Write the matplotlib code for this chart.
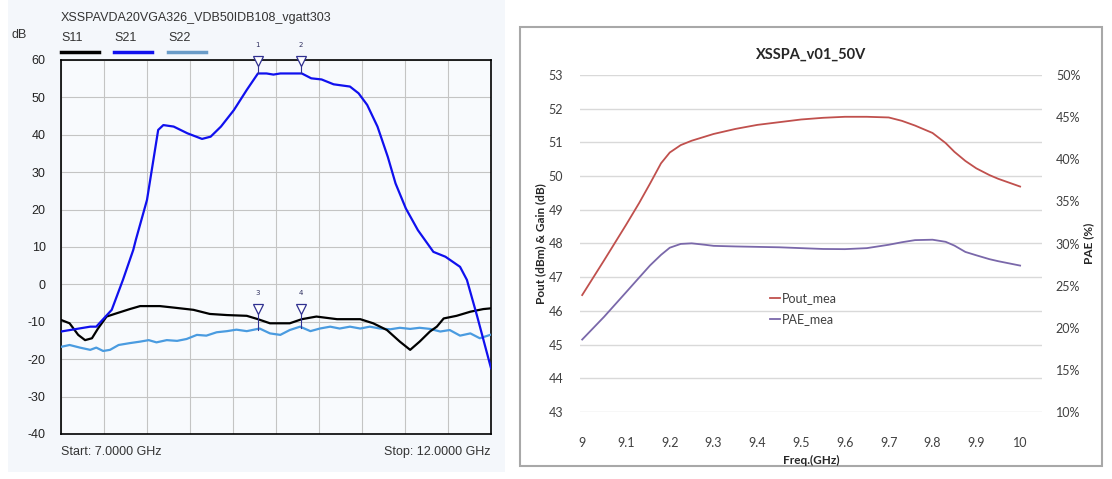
import numpy as np
import matplotlib
matplotlib.use("Agg")
import matplotlib.pyplot as plt
from matplotlib.patches import Rectangle
from matplotlib.lines import Line2D

# ---- left panel: VNA S-parameter sweep, 7-12 GHz ----
S21_F = [7.0, 7.34, 7.41, 7.59, 7.72, 7.84, 7.87, 8.0, 8.13, 8.19, 8.31, 8.47, 8.64, 8.74,
         8.86, 9.01, 9.16, 9.29, 9.39, 9.47, 9.55, 9.8, 9.91, 10.03, 10.17, 10.36, 10.46,
         10.56, 10.68, 10.8, 10.89, 11.01, 11.15, 11.33, 11.47, 11.64, 11.72, 11.84, 12.0]
S21_DB = [-12.6, -11.3, -11.3, -6.8, 1.2, 9.2, 11.9, 22.6, 41.3, 42.6, 42.2, 40.4, 38.9, 39.5,
          42.2, 46.6, 52.0, 56.4, 56.4, 56.1, 56.4, 56.4, 55.1, 54.8, 53.5, 52.9, 51.1,
          48.0, 42.2, 34.1, 27.0, 20.3, 14.5, 8.7, 7.4, 4.7, 1.2, -8.6, -22.4]

S11_F = [7.0, 7.1, 7.2, 7.28, 7.36, 7.43, 7.53, 7.65, 7.8, 7.92, 8.15, 8.31, 8.54, 8.73,
         8.93, 9.16, 9.29, 9.43, 9.66, 9.8, 9.97, 10.21, 10.48, 10.63, 10.79, 10.94, 11.06,
         11.17, 11.29, 11.37, 11.45, 11.6, 11.76, 11.91, 12.0]
S11_DB = [-9.5, -10.4, -13.5, -14.9, -14.4, -11.8, -8.6, -7.7, -6.6, -5.8, -5.8, -6.2, -6.8, -7.9,
          -8.2, -8.4, -9.3, -10.4, -10.4, -9.3, -8.6, -9.3, -9.3, -10.4, -12.2, -15.3, -17.5,
          -15.3, -12.6, -11.3, -9.1, -8.4, -7.3, -6.6, -6.4]

S22_F = [7.0, 7.1, 7.22, 7.34, 7.41, 7.49, 7.57, 7.67, 7.8, 7.92, 8.02, 8.11, 8.23, 8.35,
         8.46, 8.58, 8.69, 8.81, 8.93, 9.04, 9.16, 9.31, 9.43, 9.55, 9.66, 9.78, 9.9, 10.01,
         10.13, 10.24, 10.36, 10.48, 10.59, 10.71, 10.83, 10.94, 11.06, 11.17, 11.29, 11.41,
         11.52, 11.64, 11.76, 11.87, 11.99]
S22_DB = [-16.7, -16.2, -16.9, -17.5, -16.9, -17.8, -17.5, -16.2, -15.7, -15.3, -14.9, -15.5,
          -14.9, -15.1, -14.6, -13.5, -13.7, -12.8, -12.5, -12.1, -12.5, -11.8, -13.1, -13.5,
          -12.2, -11.3, -12.5, -11.8, -11.3, -11.8, -11.3, -11.8, -11.3, -11.8, -12.0, -11.6,
          -11.9, -11.6, -11.9, -12.6, -12.2, -13.7, -13.1, -14.4, -13.5]

MARKER_F = [9.29, 9.79, 9.29, 9.79]
MARKER_DB = [59.6, 59.6, -6.6, -6.6]
MARKER_TO = [56.4, 56.4, -12.2, -11.6]
MARKER_LABELS = ["1", "2", "3", "4"]

# ---- right panel: Pout / PAE vs frequency ----
FREQ = [9.0, 9.05, 9.1, 9.13, 9.155, 9.18, 9.2, 9.225, 9.25, 9.28, 9.3, 9.35, 9.4, 9.45,
        9.5, 9.55, 9.6, 9.65, 9.7, 9.73, 9.76, 9.8, 9.83, 9.85, 9.875, 9.9, 9.93, 9.95, 10.0]
POUT = [46.47, 47.5, 48.55, 49.2, 49.78, 50.38, 50.7, 50.92, 51.05, 51.17, 51.25, 51.4,
        51.52, 51.6, 51.68, 51.73, 51.76, 51.76, 51.74, 51.64, 51.5, 51.28, 50.98, 50.72,
        50.45, 50.23, 50.03, 49.92, 49.69]
PAE = [18.6, 21.3, 24.2, 25.95, 27.4, 28.65, 29.5, 29.95, 30.02, 29.85, 29.72, 29.65,
       29.6, 29.55, 29.45, 29.35, 29.33, 29.45, 29.85, 30.15, 30.4, 30.45, 30.2, 29.75,
       29.0, 28.6, 28.14, 27.9, 27.38]

W, H = 1112, 479


def fx(px):
    return px / W


def fy(py):
    return 1 - py / H


fig = plt.figure(figsize=(W / 100, H / 100), dpi=100)

# panel backgrounds (drawn below the axes)
fig.patches.append(Rectangle((fx(8), fy(472)), fx(497), 472 / H, transform=fig.transFigure,
                             facecolor="#f4f7fb", edgecolor="none", zorder=-10))
fig.patches.append(Rectangle((fx(520), fy(466)), fx(582), 439 / H, transform=fig.transFigure,
                             facecolor="white", edgecolor="#a8a8a8", lw=1.5, zorder=-10))

# ---------------- left panel ----------------
lfont = "Liberation Sans"
ax = fig.add_axes([fx(61), fy(434), fx(430), 374 / H])
ax.set_facecolor("#f8fafd")
ax.plot(S22_F, S22_DB, color="#4a9be0", lw=1.6, zorder=3)
ax.plot(S11_F, S11_DB, color="black", lw=1.6, zorder=4)
ax.plot(S21_F, S21_DB, color="#1010ee", lw=1.6, zorder=5)
ax.set_xlim(7, 12)
ax.set_ylim(-40, 60)
ax.set_xticks(np.arange(7, 12.01, 0.5))
ax.set_yticks(np.arange(-40, 61, 10))
ax.set_xticklabels([])
ax.set_yticklabels([str(v) for v in range(-40, 61, 10)], fontsize=9, color="#222222",
                   family=lfont)
ax.tick_params(length=0, pad=11)
ax.grid(True, color="#c4c4c4", lw=0.8)
for sp in ax.spines.values():
    sp.set_color("black")
    sp.set_linewidth(1.2)

for f, y, y2, lab in zip(MARKER_F, MARKER_DB, MARKER_TO, MARKER_LABELS):
    ax.plot([f, f], [y, y2], color="#303090", lw=0.8, zorder=6, clip_on=False)
    ax.plot(f, y, marker="v", ms=7, mfc="white", mec="#303090", mew=0.9, zorder=7,
            clip_on=False)
    ax.text(f, y + 4.3, lab, fontsize=5, ha="center", va="center", color="#303060")

fig.text(fx(61), fy(18), "XSSPAVDA20VGA326_VDB50IDB108_vgatt303", fontsize=9,
         color="#333333", family=lfont, va="center")
fig.text(fx(12), fy(35), "dB", fontsize=9, color="#333333", family=lfont, va="center")
for x0, name, col in [(61, "S11", "black"), (114, "S21", "#1010ee"), (168, "S22", "#6a9cc8")]:
    fig.text(fx(x0), fy(38), name, fontsize=9, color="#333333", family=lfont, va="center")
    fig.lines.append(Line2D([fx(x0), fx(x0 + 38)], [fy(52), fy(52)], color=col, lw=2.5,
                            transform=fig.transFigure))
fig.text(fx(61), fy(452), "Start: 7.0000 GHz", fontsize=9, color="#333333", family=lfont,
         va="center")
fig.text(fx(491), fy(452), "Stop: 12.0000 GHz", fontsize=9, color="#333333", family=lfont,
         va="center", ha="right")

# ---------------- right panel ----------------
rfont = "Lato"
ax2 = fig.add_axes([fx(580), fy(412), fx(462), 337 / H])
ax2.patch.set_visible(False)
ax2.plot(FREQ, POUT, color="#c0504d", lw=1.3, label="Pout_mea", zorder=3)
ax2.set_xlim(8.995, 10.05)
ax2.set_ylim(43, 53)
ax2.set_yticks(range(43, 54))
ax2.set_xticks(np.round(np.arange(9.0, 10.01, 0.1), 1))
ax2.set_xticklabels(["9", "9.1", "9.2", "9.3", "9.4", "9.5", "9.6", "9.7", "9.8", "9.9", "10"],
                    family=rfont, fontsize=9, color="#404040")
ax2.set_yticklabels([str(v) for v in range(43, 54)], family=rfont, fontsize=9, color="#404040")
ax2.tick_params(axis="x", length=0, pad=18)
ax2.tick_params(axis="y", length=0, pad=12)
ax2.grid(True, axis="y", color="#d9d9d9", lw=1.0)
ax2.set_axisbelow(True)
for sp in ax2.spines.values():
    sp.set_visible(False)

ax3 = ax2.twinx()
ax3.plot(FREQ, PAE, color="#7a68aa", lw=1.3, label="PAE_mea", zorder=3)
ax3.set_ylim(10, 50)
ax3.set_yticks(range(10, 51, 5))
ax3.set_yticklabels(["%d%%" % v for v in range(10, 51, 5)], family=rfont, fontsize=9,
                    color="#404040")
ax3.tick_params(axis="y", length=0, pad=10)
for sp in ax3.spines.values():
    sp.set_visible(False)

ax2.set_title("XSSPA_v01_50V", family=rfont, fontsize=10.5, fontweight="bold",
              color="#262626", pad=12)
ax2.set_xlabel("Freq.(GHz)", family=rfont, fontsize=8.5, fontweight="bold", color="#262626",
               labelpad=4)
ax2.set_ylabel("Pout (dBm) & Gain (dB)", family=rfont, fontsize=8.5, fontweight="bold",
               color="#262626", labelpad=2)
ax3.set_ylabel("PAE (%)", family=rfont, fontsize=8.5, fontweight="bold", color="#262626",
               labelpad=2)

h1, l1 = ax2.get_legend_handles_labels()
h2, l2 = ax3.get_legend_handles_labels()
leg = ax3.legend(h1 + h2, l1 + l2, loc="upper left", bbox_to_anchor=(0.398, 0.375),
                 frameon=False, handlelength=0.8, handletextpad=0.1, labelspacing=0.75,
                 borderpad=0, prop={"family": rfont, "size": 9})
for t in leg.get_texts():
    t.set_color("#404040")

fig.savefig("out.png", dpi=100)
